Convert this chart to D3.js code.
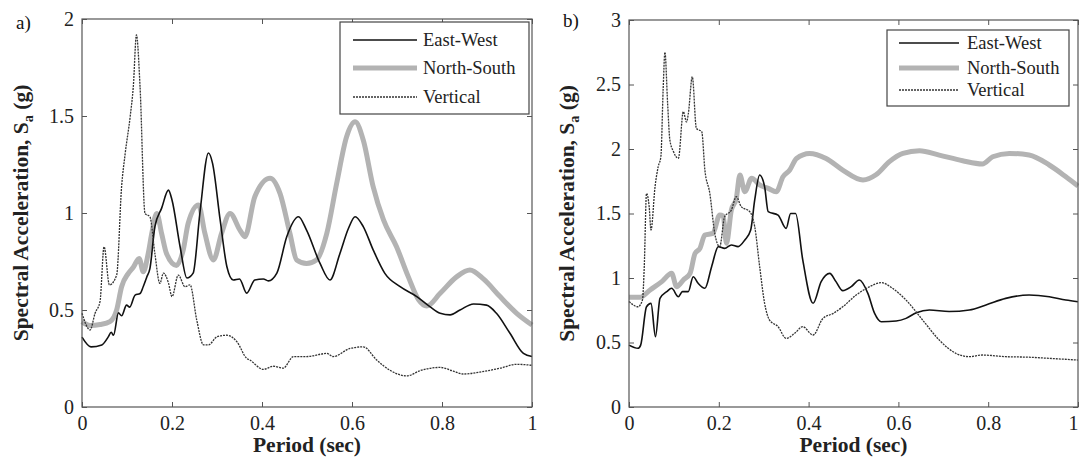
<!DOCTYPE html>
<html>
<head>
<meta charset="utf-8">
<script src="https://cdn.jsdelivr.net/npm/d3@7"></script>
<style>
  body { margin: 0; background: #fff; }
  svg { display: block; }
  svg text { font-family: "Liberation Serif", "Times New Roman", "DejaVu Serif", serif; }
</style>
</head>
<body>
<svg id="chart" width="1079" height="464"></svg>
<script>
// series names for the legend
var seriesNames = ["East-West", "North-South", "Vertical"];
var xTicks = [0, 0.2, 0.4, 0.6, 0.8, 1];
var yTicksA = [0, 0.5, 1, 1.5, 2];
var yTicksB = [0, 0.5, 1, 1.5, 2, 2.5, 3];

// panel a) : [period, Sa]
var ewA = [[0,0.36],[0.02,0.31],[0.044,0.32],[0.058,0.36],[0.065,0.385],[0.07,0.37],[0.081,0.485],[0.088,0.47],
  [0.099,0.525],[0.106,0.515],[0.118,0.577],[0.129,0.585],[0.136,0.62],[0.144,0.67],[0.151,0.715],[0.162,0.93],
  [0.177,1.025],[0.192,1.118],[0.2,1.067],[0.218,0.826],[0.233,0.665],[0.247,0.69],[0.262,1.0],[0.281,1.309],
  [0.29,1.257],[0.307,0.964],[0.322,0.723],[0.336,0.655],[0.35,0.66],[0.366,0.587],[0.384,0.655],[0.403,0.66],
  [0.414,0.65],[0.433,0.69],[0.455,0.878],[0.481,0.981],[0.499,0.912],[0.529,0.74],[0.551,0.655],[0.573,0.79],
  [0.592,0.92],[0.607,0.981],[0.625,0.93],[0.647,0.81],[0.673,0.689],[0.707,0.62],[0.744,0.569],[0.773,0.517],
  [0.796,0.483],[0.818,0.475],[0.84,0.5],[0.87,0.531],[0.899,0.525],[0.921,0.483],[0.951,0.38],[0.981,0.276],[1,0.26]];
var nsA = [[0,0.44],[0.018,0.42],[0.04,0.425],[0.062,0.44],[0.077,0.5],[0.088,0.62],[0.103,0.689],[0.114,0.72],
  [0.127,0.766],[0.136,0.697],[0.147,0.79],[0.155,0.894],[0.166,0.998],[0.177,0.894],[0.188,0.79],[0.21,0.73],
  [0.225,0.81],[0.236,0.947],[0.259,1.041],[0.273,0.896],[0.292,0.758],[0.31,0.894],[0.329,0.998],[0.351,0.912],
  [0.362,0.878],[0.384,1.084],[0.418,1.179],[0.44,1.101],[0.462,0.895],[0.477,0.758],[0.499,0.74],[0.521,0.758],
  [0.544,0.895],[0.566,1.153],[0.588,1.393],[0.607,1.47],[0.625,1.376],[0.647,1.136],[0.67,0.964],[0.699,0.826],
  [0.725,0.672],[0.748,0.552],[0.766,0.52],[0.796,0.586],[0.833,0.672],[0.862,0.706],[0.892,0.66],[0.929,0.569],
  [0.966,0.483],[1,0.423]];
var vtA = [[0,0.483],[0.018,0.397],[0.029,0.483],[0.04,0.543],[0.049,0.826],[0.061,0.629],[0.077,0.68],[0.088,1.136],
  [0.096,1.307],[0.107,1.496],[0.114,1.651],[0.121,1.918],[0.129,1.651],[0.14,0.998],[0.151,0.98],[0.162,0.79],
  [0.173,0.637],[0.181,0.69],[0.192,0.64],[0.2,0.569],[0.214,0.68],[0.229,0.62],[0.24,0.63],[0.255,0.448],
  [0.27,0.32],[0.281,0.32],[0.3,0.362],[0.322,0.37],[0.344,0.337],[0.366,0.251],[0.373,0.242],[0.403,0.194],
  [0.425,0.21],[0.447,0.2],[0.47,0.26],[0.499,0.26],[0.544,0.276],[0.558,0.26],[0.596,0.302],[0.625,0.31],
  [0.655,0.242],[0.684,0.19],[0.722,0.16],[0.751,0.187],[0.796,0.204],[0.825,0.185],[0.847,0.17],[0.884,0.18],
  [0.929,0.2],[0.966,0.22],[1,0.215]];

// panel b)
var ewB = [[0,0.48],[0.02,0.455],[0.026,0.48],[0.039,0.777],[0.049,0.803],[0.059,0.545],[0.069,0.842],[0.084,0.894],
  [0.095,0.92],[0.11,0.855],[0.119,0.894],[0.132,0.894],[0.143,1.01],[0.154,0.959],[0.169,0.92],[0.184,1.088],
  [0.199,1.243],[0.213,1.23],[0.228,1.256],[0.243,1.243],[0.258,1.295],[0.271,1.372],[0.28,1.605],[0.291,1.798],
  [0.302,1.708],[0.31,1.514],[0.332,1.488],[0.35,1.385],[0.36,1.5],[0.371,1.5],[0.387,1.14],[0.41,0.804],
  [0.428,0.972],[0.447,1.036],[0.461,0.972],[0.476,0.902],[0.495,0.933],[0.513,0.984],[0.532,0.881],[0.547,0.726],
  [0.562,0.661],[0.595,0.667],[0.617,0.687],[0.64,0.731],[0.669,0.752],[0.713,0.74],[0.758,0.752],[0.795,0.791],
  [0.839,0.842],[0.891,0.868],[0.936,0.855],[0.973,0.829],[1,0.816]];
var nsB = [[0,0.85],[0.024,0.85],[0.047,0.907],[0.073,0.972],[0.095,1.036],[0.106,0.933],[0.121,0.985],[0.136,1.036],
  [0.147,1.19],[0.158,1.23],[0.169,1.333],[0.187,1.346],[0.202,1.488],[0.21,1.48],[0.217,1.269],[0.228,1.527],
  [0.239,1.617],[0.247,1.798],[0.258,1.669],[0.273,1.773],[0.291,1.721],[0.31,1.695],[0.328,1.669],[0.343,1.785],
  [0.358,1.837],[0.373,1.927],[0.402,1.966],[0.439,1.927],[0.476,1.837],[0.521,1.76],[0.55,1.8],[0.58,1.902],
  [0.61,1.966],[0.647,1.987],[0.691,1.953],[0.743,1.909],[0.787,1.884],[0.81,1.94],[0.847,1.966],[0.891,1.953],
  [0.936,1.876],[0.973,1.785],[1,1.713]];
var vtB = [[0,0.817],[0.02,0.777],[0.03,0.83],[0.034,1.088],[0.039,1.656],[0.045,1.55],[0.049,1.372],[0.058,1.708],
  [0.065,1.863],[0.071,1.94],[0.076,2.457],[0.08,2.75],[0.086,2.354],[0.091,2.07],[0.099,1.98],[0.11,1.928],
  [0.121,2.29],[0.128,2.21],[0.132,2.27],[0.141,2.56],[0.15,2.16],[0.162,2.134],[0.169,1.837],[0.18,1.656],
  [0.191,1.346],[0.202,1.243],[0.213,1.475],[0.228,1.527],[0.239,1.63],[0.25,1.553],[0.269,1.514],[0.28,1.398],
  [0.291,1.088],[0.302,0.804],[0.313,0.674],[0.332,0.623],[0.35,0.532],[0.369,0.571],[0.387,0.623],[0.41,0.558],
  [0.432,0.687],[0.455,0.726],[0.476,0.777],[0.506,0.868],[0.536,0.933],[0.562,0.964],[0.587,0.92],[0.617,0.829],
  [0.654,0.674],[0.691,0.519],[0.728,0.416],[0.758,0.39],[0.787,0.403],[0.839,0.39],[0.891,0.386],[0.936,0.377],
  [1,0.364]];

var styles = [
  { stroke: "#111", width: 1.6, dash: null },
  { stroke: "#b3b3b3", width: 5, dash: null },
  { stroke: "#333", width: 1.3, dash: "2,1" }
];

var svg = d3.select("#chart");
var serif = "Liberation Serif, Times New Roman, serif";
var fmt = function (d) { return String(d); };

function drawPanel(opt) {
  var x = d3.scaleLinear().domain([0, 1]).range([opt.left, opt.right]);
  var y = d3.scaleLinear().domain([0, opt.ymax]).range([opt.bottom, opt.top]);
  var g = svg.append("g");

  // inward ticks on all four sides
  var bx = g.append("g").attr("transform", "translate(0," + opt.bottom + ")")
    .call(d3.axisBottom(x).tickValues(xTicks).tickSizeInner(-5).tickSizeOuter(0).tickPadding(9).tickFormat(fmt));
  g.append("g").attr("transform", "translate(0," + opt.top + ")")
    .call(d3.axisTop(x).tickValues(xTicks).tickSizeInner(-5).tickSizeOuter(0).tickFormat(""));
  g.append("g").attr("transform", "translate(" + opt.left + ",0)")
    .call(d3.axisLeft(y).tickValues(opt.yTicks).tickSizeInner(-5).tickSizeOuter(0).tickPadding(8).tickFormat(fmt));
  g.append("g").attr("transform", "translate(" + opt.right + ",0)")
    .call(d3.axisRight(y).tickValues(opt.yTicks).tickSizeInner(-5).tickSizeOuter(0).tickFormat(""));

  g.selectAll(".domain").remove();
  g.selectAll(".tick line").attr("stroke", "#555");
  g.selectAll(".tick text").attr("font-family", serif).attr("font-size", 20).attr("fill", "#222");
  if (opt.lastTickEnd) {
    bx.selectAll(".tick text").filter(function (d) { return d === 1; })
      .attr("text-anchor", "end").attr("dx", 0);
  }

  // curves
  var line = d3.line()
    .x(function (d) { return x(d[0]); })
    .y(function (d) { return y(d[1]); })
    .curve(d3.curveMonotoneX);
  var order = [1, 0, 2];
  order.forEach(function (i) {
    g.append("path")
      .datum(opt.series[i])
      .attr("fill", "none")
      .attr("stroke", styles[i].stroke)
      .attr("stroke-width", styles[i].width)
      .attr("stroke-dasharray", styles[i].dash)
      .attr("stroke-linejoin", "round")
      .attr("d", line);
  });

  // box
  g.append("rect")
    .attr("x", opt.left).attr("y", opt.top)
    .attr("width", opt.right - opt.left).attr("height", opt.bottom - opt.top)
    .attr("fill", "none").attr("stroke", "#555").attr("stroke-width", 1.2);

  // legend
  var L = opt.legend;
  g.append("rect")
    .attr("x", L.x).attr("y", L.y).attr("width", L.w).attr("height", L.h)
    .attr("fill", "#fff").attr("stroke", "#444").attr("stroke-width", 1.2);
  seriesNames.forEach(function (name, i) {
    var yy = L.rows[i];
    g.append("line")
      .attr("x1", L.lx1).attr("x2", L.lx2).attr("y1", yy).attr("y2", yy)
      .attr("stroke", styles[i].stroke)
      .attr("stroke-width", styles[i].width)
      .attr("stroke-dasharray", styles[i].dash);
    g.append("text")
      .attr("x", L.tx).attr("y", yy).attr("dy", "0.33em")
      .attr("font-family", serif).attr("font-size", 18.5).attr("fill", "#222")
      .text(name);
  });

  // axis titles
  g.append("text")
    .attr("x", (opt.left + opt.right) / 2).attr("y", 452)
    .attr("text-anchor", "middle").attr("font-family", serif)
    .attr("font-weight", "bold").attr("font-size", 21.5).attr("fill", "#222")
    .text("Period (sec)");
  var yt = g.append("text")
    .attr("transform", "translate(" + opt.ytx + "," + ((opt.top + opt.bottom) / 2) + ") rotate(-90)")
    .attr("text-anchor", "middle").attr("font-family", serif)
    .attr("font-weight", "bold").attr("font-size", 21.5).attr("fill", "#222");
  yt.append("tspan").text("Spectral Acceleration, S");
  yt.append("tspan").attr("font-size", 14).attr("dy", 5).text("a");
  yt.append("tspan").attr("dy", -5).text(" (g)");

  // panel tag
  g.append("text")
    .attr("x", opt.tagX).attr("y", opt.tagY)
    .attr("font-family", serif).attr("font-size", 19).attr("fill", "#111")
    .text(opt.tag);
}

drawPanel({
  left: 82, right: 532, top: 19, bottom: 407, ymax: 2, yTicks: yTicksA,
  series: [ewA, nsA, vtA],
  legend: { x: 340, y: 22, w: 189, h: 92, rows: [40, 68, 97], lx1: 353, lx2: 417, tx: 423 },
  ytx: 28, tag: "a)", tagX: 16, tagY: 29
});
drawPanel({
  left: 629, right: 1078, top: 20, bottom: 407, ymax: 3, yTicks: yTicksB,
  series: [ewB, nsB, vtB],
  legend: { x: 887, y: 30, w: 182, h: 76, rows: [43, 68, 90], lx1: 899, lx2: 959, tx: 967 },
  ytx: 574, tag: "b)", tagX: 563, tagY: 27, lastTickEnd: true
});
</script>
</body>
</html>
